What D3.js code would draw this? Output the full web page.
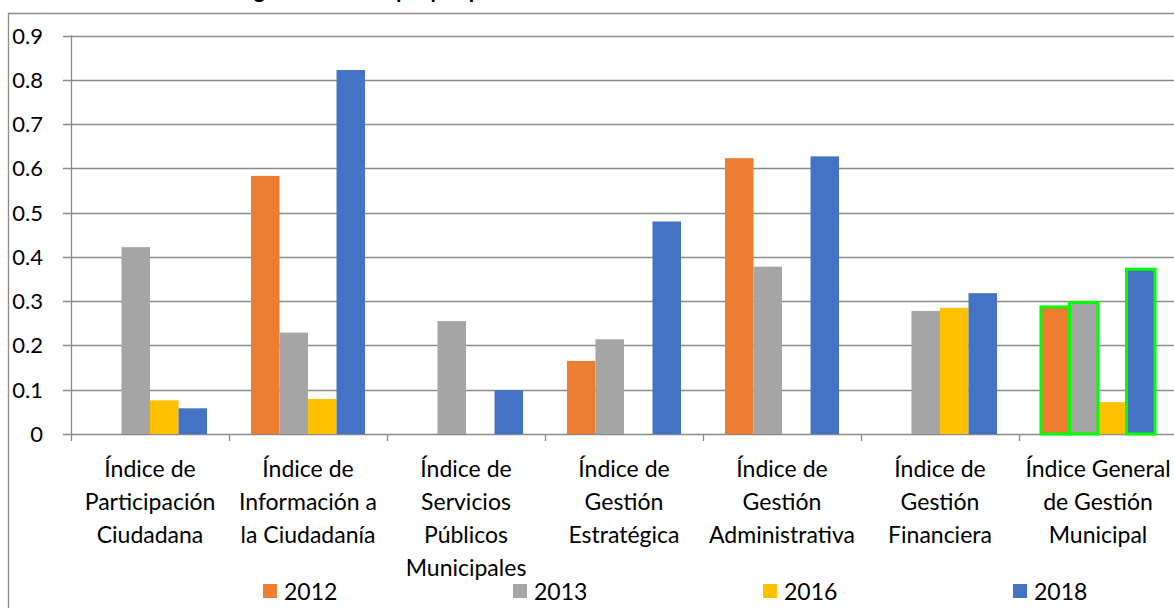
<!DOCTYPE html>
<html>
<head>
<meta charset="utf-8">
<script src="https://cdn.jsdelivr.net/npm/d3@7"></script>
<style>
  body { margin: 0; background: #fff; }
  svg { display: block; }
  text { font-family: Lato, "Open Sans", sans-serif; fill: #000; }
</style>
</head>
<body>
<svg id="chart" width="1174" height="608"></svg>
<script>
// categories, one label line per entry
var categories = [
  ["Índice de", "Participación", "Ciudadana"],
  ["Índice de", "Información a", "la Ciudadanía"],
  ["Índice de", "Servicios", "Públicos", "Municipales"],
  ["Índice de", "Gestión", "Estratégica"],
  ["Índice de", "Gestión", "Administrativa"],
  ["Índice de", "Gestión", "Financiera"],
  ["Índice General", "de Gestión", "Municipal"]
]
var years = ["2012", "2013", "2016", "2018"]
var colors = ["#ED7D31", "#A5A5A5", "#FFC000", "#4472C4"]
// null = no bar
var v2012 = [null, 0.583, null, 0.165, 0.623, null, 0.287]
var v2013 = [0.422, 0.229, 0.255, 0.214, 0.378, 0.278, 0.297]
var v2016 = [0.076, 0.079, null, null, null, 0.285, 0.072]
var v2018 = [0.058, 0.822, 0.099, 0.480, 0.627, 0.318, 0.372]
var yTicks = [0, 0.1, 0.2, 0.3, 0.4, 0.5, 0.6, 0.7, 0.8, 0.9]
// bars outlined in green in the last group
var highlighted = [[6, "2012"], [6, "2013"], [6, "2018"]]
var title = "Índices de gestión municipal por período"

var series = [v2012, v2013, v2016, v2018]

var svg = d3.select("#chart")
var catIdx = d3.range(categories.length)

var x = d3.scaleBand().domain(catIdx).range([71, 71 + 158 * categories.length]).padding(0)
var xs = d3.scaleBand().domain(years).range([0, x.bandwidth()]).paddingInner(0).paddingOuter(0.77)
var y = d3.scaleLinear().domain([0, 0.9]).range([434, 35.5])

// outer frame (cut by window)
svg.append("path")
  .attr("d", "M8.5,700V13.5H1200")
  .attr("fill", "none").attr("stroke", "#8c8c8c").attr("stroke-width", 1.3)

// title, cut by the top of the window as in the reference
svg.append("text")
  .attr("x", 150).attr("y", -2)
  .style("font-size", "22px").style("font-weight", "bold")
  .text(title)

// gridlines
svg.append("g").selectAll("line")
  .data(yTicks)
  .enter().append("line")
  .attr("x1", 63).attr("x2", 1174)
  .attr("y1", function(d){return Math.round(y(d)) + 0.5})
  .attr("y2", function(d){return Math.round(y(d)) + 0.5})
  .attr("stroke", "#8a8a8a").attr("stroke-width", 1.3)

// y labels
svg.append("g").selectAll("text")
  .data(yTicks)
  .enter().append("text")
  .attr("x", 43)
  .attr("y", function(d){return y(d) + 8})
  .attr("text-anchor", "end")
  .style("font-size", "22px")
  .text(function(d){return d === 0 ? "0" : d.toFixed(1)})

// y axis line
svg.append("line")
  .attr("x1", 71.5).attr("x2", 71.5).attr("y1", y(0.9)).attr("y2", 441)
  .attr("stroke", "#8a8a8a").attr("stroke-width", 1.3)

// category tick marks
svg.append("g").selectAll("line")
  .data(catIdx.slice(1))
  .enter().append("line")
  .attr("x1", function(d){return Math.round(x(d)) + 0.5})
  .attr("x2", function(d){return Math.round(x(d)) + 0.5})
  .attr("y1", y(0)).attr("y2", 441)
  .attr("stroke", "#8a8a8a").attr("stroke-width", 1.3)

// bars
series.forEach(function(vals, si)
{
  svg.append("g").selectAll("rect")
    .data(catIdx.filter(function(i){return vals[i] !== null}))
    .enter().append("rect")
    .attr("x", function(i){return x(i) + xs(years[si])})
    .attr("width", xs.bandwidth())
    .attr("y", function(i){return y(vals[i])})
    .attr("height", function(i){return y(0) - y(vals[i])})
    .attr("fill", colors[si])
})

// green outlines
svg.append("g").selectAll("rect")
  .data(highlighted)
  .enter().append("rect")
  .attr("x", function(d){return x(d[0]) + xs(d[1])})
  .attr("width", xs.bandwidth())
  .attr("y", function(d){return y(series[years.indexOf(d[1])][d[0]])})
  .attr("height", function(d){return y(0) - y(series[years.indexOf(d[1])][d[0]])})
  .attr("fill", "none").attr("stroke", "#00ff00").attr("stroke-width", 3)

// category labels
var lab = svg.append("g").selectAll("text")
  .data(catIdx)
  .enter().append("text")
  .attr("text-anchor", "middle")
  .style("font-size", "23px")
lab.selectAll("tspan")
  .data(function(i){return categories[i].map(function(t, k){return {t: t, k: k, i: i}})})
  .enter().append("tspan")
  .attr("x", function(d){return x(d.i) + x.bandwidth() / 2})
  .attr("y", function(d){return 477 + d.k * 33})
  .text(function(d){return d.t})

// legend
var leg = svg.append("g").selectAll("g")
  .data(years)
  .enter().append("g")
  .attr("transform", function(d, i){return "translate(" + (263 + i * 250) + ",584)"})
leg.append("rect")
  .attr("width", 14).attr("height", 14)
  .attr("fill", function(d, i){return colors[i]})
leg.append("text")
  .attr("x", 21).attr("y", 16)
  .style("font-size", "23px")
  .text(function(d){return d})
</script>
</body>
</html>
